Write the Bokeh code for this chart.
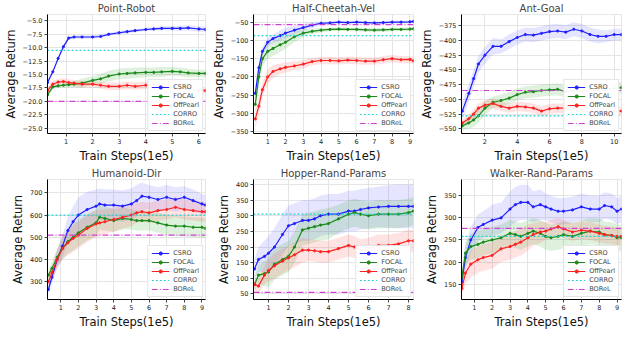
from bokeh.plotting import figure
from bokeh.layouts import gridplot
from bokeh.models import FixedTicker, Range1d, Legend, LegendItem, CustomJSTickFormatter
from bokeh.embed import file_html
from bokeh.resources import INLINE

# ---------------- data ----------------
titles = ["Point-Robot", "Half-Cheetah-Vel", "Ant-Goal", "Humanoid-Dir", "Hopper-Rand-Params", "Walker-Rand-Params"]
series_names = ["CSRO", "FOCAL", "OffPearl"]

# Point-Robot
pr_x = [0.3, 0.5, 0.7, 0.9, 1.1, 1.3, 1.6, 2.0, 2.3, 2.6, 3.0, 3.3, 3.6, 4.0, 4.3, 4.6, 5.0, 5.3, 5.6, 6.0, 6.25]
pr_csro = [-16.5, -14.5, -12.0, -9.8, -8.2, -8.0, -8.0, -8.0, -7.9, -7.5, -7.2, -7.0, -6.8, -6.6, -6.5, -6.4, -6.4, -6.4, -6.3, -6.5, -6.6]
pr_csro_sd = [0.4, 0.3, 0.3, 0.3, 0.3, 0.3, 0.3, 0.3, 0.3, 0.3, 0.3, 0.3, 0.3, 0.3, 0.3, 0.4, 0.4, 0.5, 0.5, 0.5, 0.5]
pr_focal = [-18.8, -17.3, -17.1, -17.0, -16.9, -16.8, -16.6, -16.1, -15.8, -15.3, -14.9, -14.8, -14.7, -14.6, -14.6, -14.5, -14.4, -14.5, -14.7, -14.8, -14.8]
pr_focal_sd = [0.5, 0.4, 0.4, 0.4, 0.5, 0.6, 0.8, 0.8, 0.9, 1.0, 1.0, 1.0, 1.0, 0.9, 0.9, 0.9, 0.8, 0.8, 0.8, 0.7, 0.7]
pr_offp = [-18.0, -16.8, -16.4, -16.3, -16.5, -16.6, -16.8, -16.8, -17.0, -17.2, -17.2, -17.0, -17.2, -17.0, -16.9, -17.1, -17.4, -17.6, -17.8, -17.9, -18.0]
pr_offp_sd = [0.6, 0.6, 0.6, 0.6, 0.6, 0.6, 0.6, 0.6, 0.6, 0.7, 0.7, 0.7, 0.7, 0.7, 0.7, 0.7, 0.6, 0.6, 0.5, 0.5, 0.5]
pr_corro, pr_borel = -10.5, -20.0
pr_xticks = [1, 2, 3, 4, 5, 6]
pr_yticks = [-25.0, -22.5, -20.0, -17.5, -15.0, -12.5, -10.0, -7.5, -5.0]

# Half-Cheetah-Vel
hc_x = [0.3, 0.5, 0.7, 1.0, 1.3, 1.7, 2.0, 2.5, 3.0, 3.5, 4.0, 4.5, 5.0, 5.5, 6.0, 6.5, 7.0, 7.5, 8.0, 8.5, 9.0, 9.2]
hc_csro = [-245, -175, -130, -105, -95, -87, -80, -72, -65, -58, -53, -52, -50, -51, -50, -51, -52, -51, -50, -50, -49, -48]
hc_csro_sd = [20, 15, 12, 12, 12, 14, 15, 12, 10, 8, 5, 4, 4, 4, 4, 4, 4, 4, 4, 4, 4, 4]
hc_focal = [-275, -200, -150, -130, -122, -112, -105, -90, -80, -75, -72, -70, -69, -70, -70, -71, -72, -71, -70, -70, -69, -68]
hc_focal_sd = [20, 20, 20, 20, 20, 20, 18, 15, 10, 7, 6, 5, 5, 5, 5, 5, 5, 5, 5, 5, 5, 5]
hc_offp = [-315, -280, -235, -200, -185, -178, -174, -170, -165, -158, -155, -155, -156, -154, -155, -157, -157, -153, -150, -153, -152, -156]
hc_offp_sd = [25, 25, 20, 20, 18, 15, 14, 12, 12, 10, 10, 10, 10, 10, 10, 10, 10, 10, 10, 10, 10, 10]
hc_corro, hc_borel = -87, -57
hc_xticks = [1, 2, 3, 4, 5, 6, 7, 8, 9]
hc_yticks = [-350, -300, -250, -200, -150, -100, -50]

# Ant-Goal
ag_x = [0.6, 1.0, 1.3, 1.6, 2.0, 2.5, 3.0, 3.5, 4.0, 4.5, 5.0, 5.5, 6.0, 6.5, 7.0, 7.5, 8.0, 8.5, 9.0, 9.5, 10.0, 10.45]
ag_csro = [-520, -490, -465, -440, -425, -410, -410, -402, -395, -390, -391, -388, -385, -384, -386, -381, -384, -390, -393, -393, -390, -390]
ag_csro_sd = [15, 15, 15, 14, 14, 14, 12, 12, 12, 12, 12, 12, 12, 12, 12, 12, 12, 12, 12, 10, 10, 10]
ag_focal = [-545, -540, -535, -528, -515, -505, -502, -498, -492, -488, -487, -485, -484, -483, -487, -486, -487, -484, -482, -482, -481, -480]
ag_focal_sd = [8, 10, 12, 12, 12, 10, 10, 10, 10, 10, 10, 10, 10, 10, 10, 10, 10, 10, 10, 10, 10, 10]
ag_offp = [-540, -533, -525, -515, -510, -507, -512, -515, -512, -513, -515, -520, -516, -515, -515, -514, -517, -522, -520, -520, -520, -520]
ag_offp_sd = [6, 7, 8, 8, 8, 8, 8, 8, 8, 8, 8, 8, 8, 8, 8, 8, 8, 8, 8, 8, 8, 8]
ag_corro, ag_borel = -528, -485
ag_xticks = [2, 4, 6, 8, 10]
ag_yticks = [-550, -525, -500, -475, -450, -425, -400, -375]

# Humanoid-Dir
hd_x = [0.3, 0.5, 0.8, 1.1, 1.4, 1.7, 2.0, 2.5, 3.0, 3.2, 3.5, 4.0, 4.5, 5.0, 5.3, 5.6, 6.0, 6.5, 7.0, 7.5, 8.0, 8.5, 9.0, 9.2]
hd_csro = [265, 320, 400, 460, 530, 570, 600, 625, 640, 650, 645, 645, 640, 650, 665, 685, 680, 670, 680, 670, 680, 665, 650, 645]
hd_csro_sd = [20, 30, 40, 50, 60, 70, 80, 80, 75, 70, 70, 70, 70, 70, 70, 60, 55, 55, 55, 55, 50, 50, 45, 45]
hd_focal = [330, 360, 410, 450, 480, 500, 520, 545, 565, 590, 585, 575, 585, 580, 575, 575, 575, 565, 555, 550, 550, 545, 545, 540]
hd_focal_sd = [20, 30, 40, 50, 55, 60, 60, 60, 60, 55, 55, 50, 50, 45, 45, 45, 45, 45, 45, 45, 45, 45, 45, 45]
hd_offp = [300, 340, 400, 450, 475, 495, 510, 540, 560, 565, 570, 580, 590, 600, 610, 615, 610, 620, 625, 635, 625, 620, 615, 615]
hd_offp_sd = [20, 30, 40, 50, 55, 60, 60, 60, 60, 60, 55, 55, 50, 50, 45, 45, 45, 45, 45, 45, 45, 45, 45, 45]
hd_corro, hd_borel = 600, 510
hd_xticks = [1, 2, 3, 4, 5, 6, 7, 8, 9]
hd_yticks = [300, 400, 500, 600, 700]

# Hopper-Rand-Params
hp_x = [0.3, 0.5, 0.8, 1.0, 1.3, 1.7, 2.0, 2.3, 2.7, 3.0, 3.3, 3.6, 4.0, 4.5, 5.0, 5.3, 5.6, 6.0, 6.5, 7.0, 7.5, 8.0, 8.25]
hp_csro = [130, 160, 170, 180, 200, 240, 268, 275, 285, 285, 290, 300, 305, 305, 315, 315, 320, 325, 328, 330, 330, 330, 330]
hp_csro_sd = [30, 40, 50, 55, 60, 65, 65, 65, 65, 65, 65, 65, 65, 65, 65, 65, 65, 65, 65, 68, 70, 70, 70]
hp_focal = [80, 110, 115, 120, 145, 160, 170, 200, 255, 260, 265, 270, 275, 290, 305, 310, 305, 300, 305, 305, 305, 310, 315]
hp_focal_sd = [20, 30, 40, 50, 50, 50, 50, 50, 50, 50, 50, 50, 50, 45, 45, 45, 45, 45, 45, 45, 45, 45, 45]
hp_offp = [80, 75, 110, 125, 140, 155, 165, 175, 190, 190, 188, 185, 185, 195, 205, 200, 190, 195, 205, 205, 210, 220, 220]
hp_offp_sd = [20, 25, 30, 35, 40, 40, 40, 40, 40, 35, 35, 35, 35, 35, 35, 35, 35, 35, 35, 35, 35, 35, 35]
hp_corro, hp_borel = 305, 55
hp_xticks = [1, 2, 3, 4, 5, 6, 7, 8]
hp_yticks = [50, 100, 150, 200, 250, 300, 350, 400]

# Walker-Rand-Params
wk_x = [0.3, 0.5, 0.8, 1.2, 1.5, 2.0, 2.5, 3.0, 3.3, 3.6, 4.0, 4.3, 4.7, 5.0, 5.3, 5.7, 6.0, 6.5, 7.0, 7.5, 8.0, 8.3, 8.7, 9.0, 9.25]
wk_csro = [155, 210, 250, 278, 285, 295, 300, 320, 330, 335, 335, 325, 330, 325, 320, 315, 315, 318, 325, 320, 320, 328, 325, 315, 320]
wk_csro_sd = [15, 25, 30, 30, 30, 35, 35, 40, 40, 40, 40, 35, 35, 30, 30, 30, 30, 30, 30, 30, 30, 30, 30, 30, 30]
wk_focal = [165, 220, 235, 240, 245, 250, 255, 265, 262, 258, 265, 270, 265, 258, 255, 258, 262, 258, 265, 270, 268, 262, 260, 255, 255]
wk_focal_sd = [15, 25, 30, 30, 30, 30, 30, 30, 30, 30, 30, 30, 30, 30, 30, 30, 30, 30, 30, 30, 30, 30, 30, 30, 30]
wk_offp = [140, 175, 195, 205, 210, 215, 230, 235, 240, 245, 255, 262, 268, 270, 275, 280, 275, 268, 272, 270, 265, 262, 260, 258, 258]
wk_offp_sd = [15, 25, 30, 30, 30, 30, 30, 30, 30, 30, 30, 25, 25, 20, 20, 20, 20, 20, 20, 20, 20, 20, 20, 20, 20]
wk_corro, wk_borel = 258, 276
wk_xticks = [1, 2, 3, 4, 5, 6, 7, 8, 9]
wk_yticks = [150, 200, 250, 300, 350]

panels = [
    (pr_x, [pr_csro, pr_focal, pr_offp], [pr_csro_sd, pr_focal_sd, pr_offp_sd], pr_corro, pr_borel, pr_xticks, pr_yticks, (0.3, 6.25), (-26.0, -3.8), 1),
    (hc_x, [hc_csro, hc_focal, hc_offp], [hc_csro_sd, hc_focal_sd, hc_offp_sd], hc_corro, hc_borel, hc_xticks, hc_yticks, (0.2, 9.2), (-355, -29), 0),
    (ag_x, [ag_csro, ag_focal, ag_offp], [ag_csro_sd, ag_focal_sd, ag_offp_sd], ag_corro, ag_borel, ag_xticks, ag_yticks, (0.55, 10.45), (-558, -356), 0),
    (hd_x, [hd_csro, hd_focal, hd_offp], [hd_csro_sd, hd_focal_sd, hd_offp_sd], hd_corro, hd_borel, hd_xticks, hd_yticks, (0.25, 9.2), (220, 760), 0),
    (hp_x, [hp_csro, hp_focal, hp_offp], [hp_csro_sd, hp_focal_sd, hp_offp_sd], hp_corro, hp_borel, hp_xticks, hp_yticks, (0.25, 8.25), (32, 416), 0),
    (wk_x, [wk_csro, wk_focal, wk_offp], [wk_csro_sd, wk_focal_sd, wk_offp_sd], wk_corro, wk_borel, wk_xticks, wk_yticks, (0.28, 9.25), (115, 387), 0),
]

# ---------------- style ----------------
colors = ["#1f1fff", "#1a8a1a", "#ff2020"]
band_colors = ["#6666ff", "#33aa33", "#ff5555"]
corro_color = "#22d3d3"
borel_color = "#d040d0"
FONT = "DejaVu Sans"

figs = []
for i, (xs, ys, sds, corro, borel, xt, yt, xr, yr, dec) in enumerate(panels):
    p = figure(width=208, height=165 if i < 3 else 166, output_backend="svg", toolbar_location=None,
               x_range=Range1d(*xr), y_range=Range1d(*yr), title=titles[i],
               min_border_left=2, min_border_right=3, min_border_top=0, min_border_bottom=0)
    p.title.align = "center"
    p.title.text_font = FONT
    p.title.text_font_size = "10px"
    p.title.text_font_style = "normal"
    p.title.standoff = 1
    p.title.offset = 0
    p.outline_line_color = "#e6e6e6"
    p.background_fill_color = "white"
    p.xgrid.grid_line_color = "#e4e4e4"
    p.ygrid.grid_line_color = "#e4e4e4"
    p.xaxis.ticker = FixedTicker(ticks=xt)
    p.yaxis.ticker = FixedTicker(ticks=yt)
    p.yaxis.formatter = CustomJSTickFormatter(code="return tick.toFixed(%d).replace('-', '\\u2212');" % dec)
    for ax in (p.xaxis[0], p.yaxis[0]):
        ax.major_label_text_font = FONT
        ax.major_label_text_font_size = "6.5px"
        ax.major_label_text_color = "#222222"
        ax.axis_label_text_font = FONT
        ax.axis_label_text_font_size = "11.5px"
        ax.axis_label_text_font_style = "normal"
        ax.axis_label_text_color = "#111111"
        ax.axis_line_color = "black"
        ax.major_tick_line_color = "#444444"
        ax.major_tick_out = 3
        ax.major_tick_in = 0
        ax.minor_tick_line_color = None
        ax.major_label_standoff = 2
        ax.axis_label_standoff = 2
    p.xaxis.axis_label = "Train Steps(1e5)"
    p.yaxis.axis_label = "Average Return"

    items = []
    for k in range(3):
        lo = [y - s for y, s in zip(ys[k], sds[k])]
        hi = [y + s for y, s in zip(ys[k], sds[k])]
        p.varea(x=xs, y1=lo, y2=hi, fill_color=band_colors[k], fill_alpha=0.17)
    for k in range(3):
        r1 = p.line(xs, ys[k], line_color=colors[k], line_width=1.2)
        r2 = p.scatter(xs, ys[k], size=2.2, color=colors[k])
        items.append(LegendItem(label=series_names[k], renderers=[r1, r2]))
    rc = p.line(x=list(xr), y=[corro, corro], line_color=corro_color, line_width=1.2, line_dash="2 2")
    rb = p.line(x=list(xr), y=[borel, borel], line_color=borel_color, line_width=1.2, line_dash="6 2 1 2")
    items.append(LegendItem(label="CORRO", renderers=[rc]))
    items.append(LegendItem(label="BOReL", renderers=[rb]))

    leg = Legend(items=items, location="bottom_right")
    leg.label_text_font = FONT
    leg.label_text_font_size = "6.5px"
    leg.label_height = 8
    leg.glyph_height = 8
    leg.glyph_width = 18
    leg.spacing = 1
    leg.padding = 3
    leg.margin = 2
    leg.label_standoff = 4
    leg.border_line_color = "#cccccc"
    leg.background_fill_color = "white"
    leg.background_fill_alpha = 0.95
    p.add_layout(leg)
    figs.append(p)

grid = gridplot([figs[:3], figs[3:]], toolbar_location=None)

with open("out.html", "w") as f:
    f.write(file_html(grid, INLINE))
